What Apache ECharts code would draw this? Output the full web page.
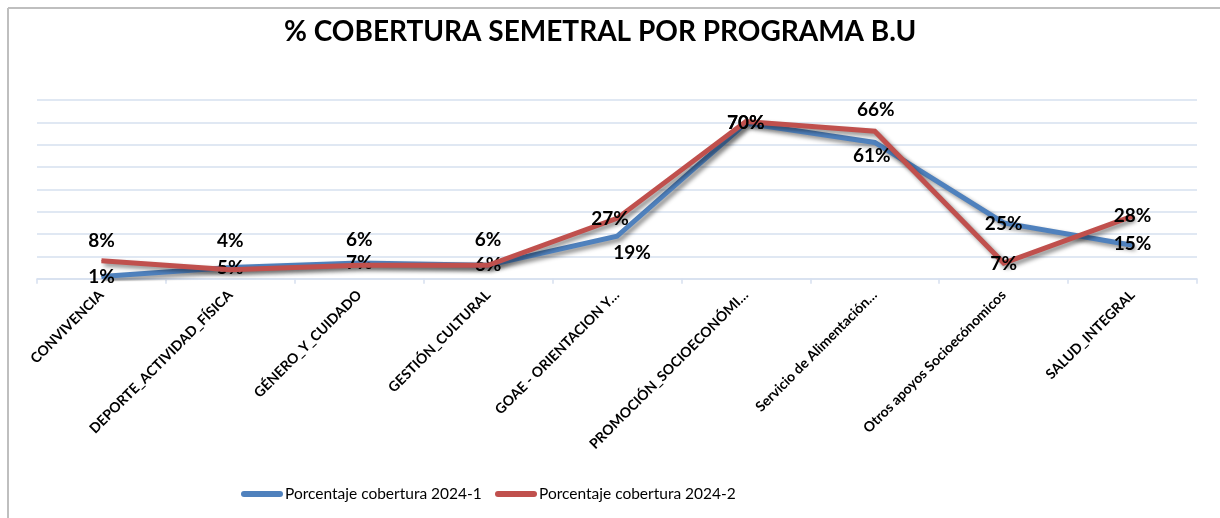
<!DOCTYPE html>
<html><head><meta charset="utf-8">
<script src="https://cdn.jsdelivr.net/npm/echarts@6/dist/echarts.min.js"></script>
<style>html,body{margin:0;padding:0;background:#fff}#c{width:1220px;height:518px}</style>
</head><body><div id="c"></div>
<script>
const categories = ["CONVIVENCIA","DEPORTE_ACTIVIDAD_FÍSICA","GÉNERO_Y_CUIDADO","GESTIÓN_CULTURAL","GOAE - ORIENTACION Y…","PROMOCIÓN_SOCIOECONÓMI…","Servicio de Alimentación…","Otros apoyos Socioecónomicos","SALUD_INTEGRAL"];
const serie1Name = "Porcentaje cobertura 2024-1";
const serie2Name = "Porcentaje cobertura 2024-2";
const serie1 = [1, 5, 7, 6, 19, 69.6, 61, 25, 15];
const serie2 = [8, 4, 6, 6, 27, 70.4, 66, 7, 28];
const yTicks = [0,10,20,30,40,50,60,70,80];

// label offsets (style only)
const off1 = [[0,0],[0,0],[0,0],[0,0],[15,17],[0,0],[-3,13],[0,1],[0,-1]];
const off2 = [[0,-20],[0,-29],[0,-25],[0,-25],[-7,0],[0,1],[1,-21],[0,1],[0,0]];

const FONT = 'Lato, "Open Sans", sans-serif';
function mk(vals, offs){
  return vals.map((v,i)=>({value:v, label:{offset:offs[i]}}));
}
const lblStyle = {show:true, position:'inside', fontFamily:FONT, fontWeight:'bold', fontSize:19, color:'#000',
  formatter: p => Math.round(p.value) + '%'};
const shadow = {shadowColor:'rgba(0,0,0,0.45)', shadowBlur:4, shadowOffsetX:3, shadowOffsetY:3};
const legendCommon = {top:481, itemWidth:36, itemHeight:6, itemGap:0,
    textStyle:{fontFamily:FONT, fontSize:15.5, color:'#000'},
    lineStyle:{width:6, cap:'round'}};

const chart = echarts.init(document.getElementById('c'), null, {renderer:'canvas'});
chart.setOption({
  animation:false,
  backgroundColor:'#fff',
  title:{text:'% COBERTURA SEMETRAL POR PROGRAMA B.U', left:279, top:13,
    textStyle:{fontFamily:FONT, fontWeight:'bold', fontSize:28, color:'#000'}},
  graphic:[
    {type:'line', shape:{x1:8,y1:8,x2:1220,y2:8}, style:{stroke:'#bfbfbf', lineWidth:2}},
    {type:'line', shape:{x1:8,y1:8,x2:8,y2:518}, style:{stroke:'#bfbfbf', lineWidth:2}}
  ],
  legend:[
    Object.assign({left:236, data:[serie1Name]}, legendCommon),
    Object.assign({left:490, data:[serie2Name]}, legendCommon)
  ],
  grid:{left:37, right:23, top:100, bottom:239.3, containLabel:false},
  xAxis:{type:'category', data:categories, boundaryGap:true,
    axisLine:{lineStyle:{color:'#d6e0ef', width:1.5}},
    axisTick:{show:true, length:5, lineStyle:{color:'#d6e0ef', width:1.5}},
    axisLabel:{rotate:45, interval:0, margin:14, fontFamily:FONT, fontWeight:'bold', fontSize:14, color:'#000'}},
  yAxis:{type:'value', min:yTicks[0], max:yTicks[yTicks.length-1], interval:10,
    axisLabel:{show:false}, axisLine:{show:false}, axisTick:{show:false},
    splitLine:{lineStyle:{color:'#d6e0ef', width:1.5}}},
  series:[
    {name:serie1Name, type:'line', data:mk(serie1, off1), symbol:'circle', symbolSize:1, showSymbol:true, z:3,
      color:'#4f81bd', itemStyle:{color:'#4f81bd'},
      lineStyle:Object.assign({width:5, color:'#4f81bd', join:'miter'}, shadow),
      label:lblStyle},
    {name:serie2Name, type:'line', data:mk(serie2, off2), symbol:'circle', symbolSize:1, showSymbol:true, z:4,
      color:'#c0504d', itemStyle:{color:'#c0504d'},
      lineStyle:Object.assign({width:5, color:'#c0504d', join:'miter'}, shadow),
      label:lblStyle}
  ]
});
</script></body></html>
